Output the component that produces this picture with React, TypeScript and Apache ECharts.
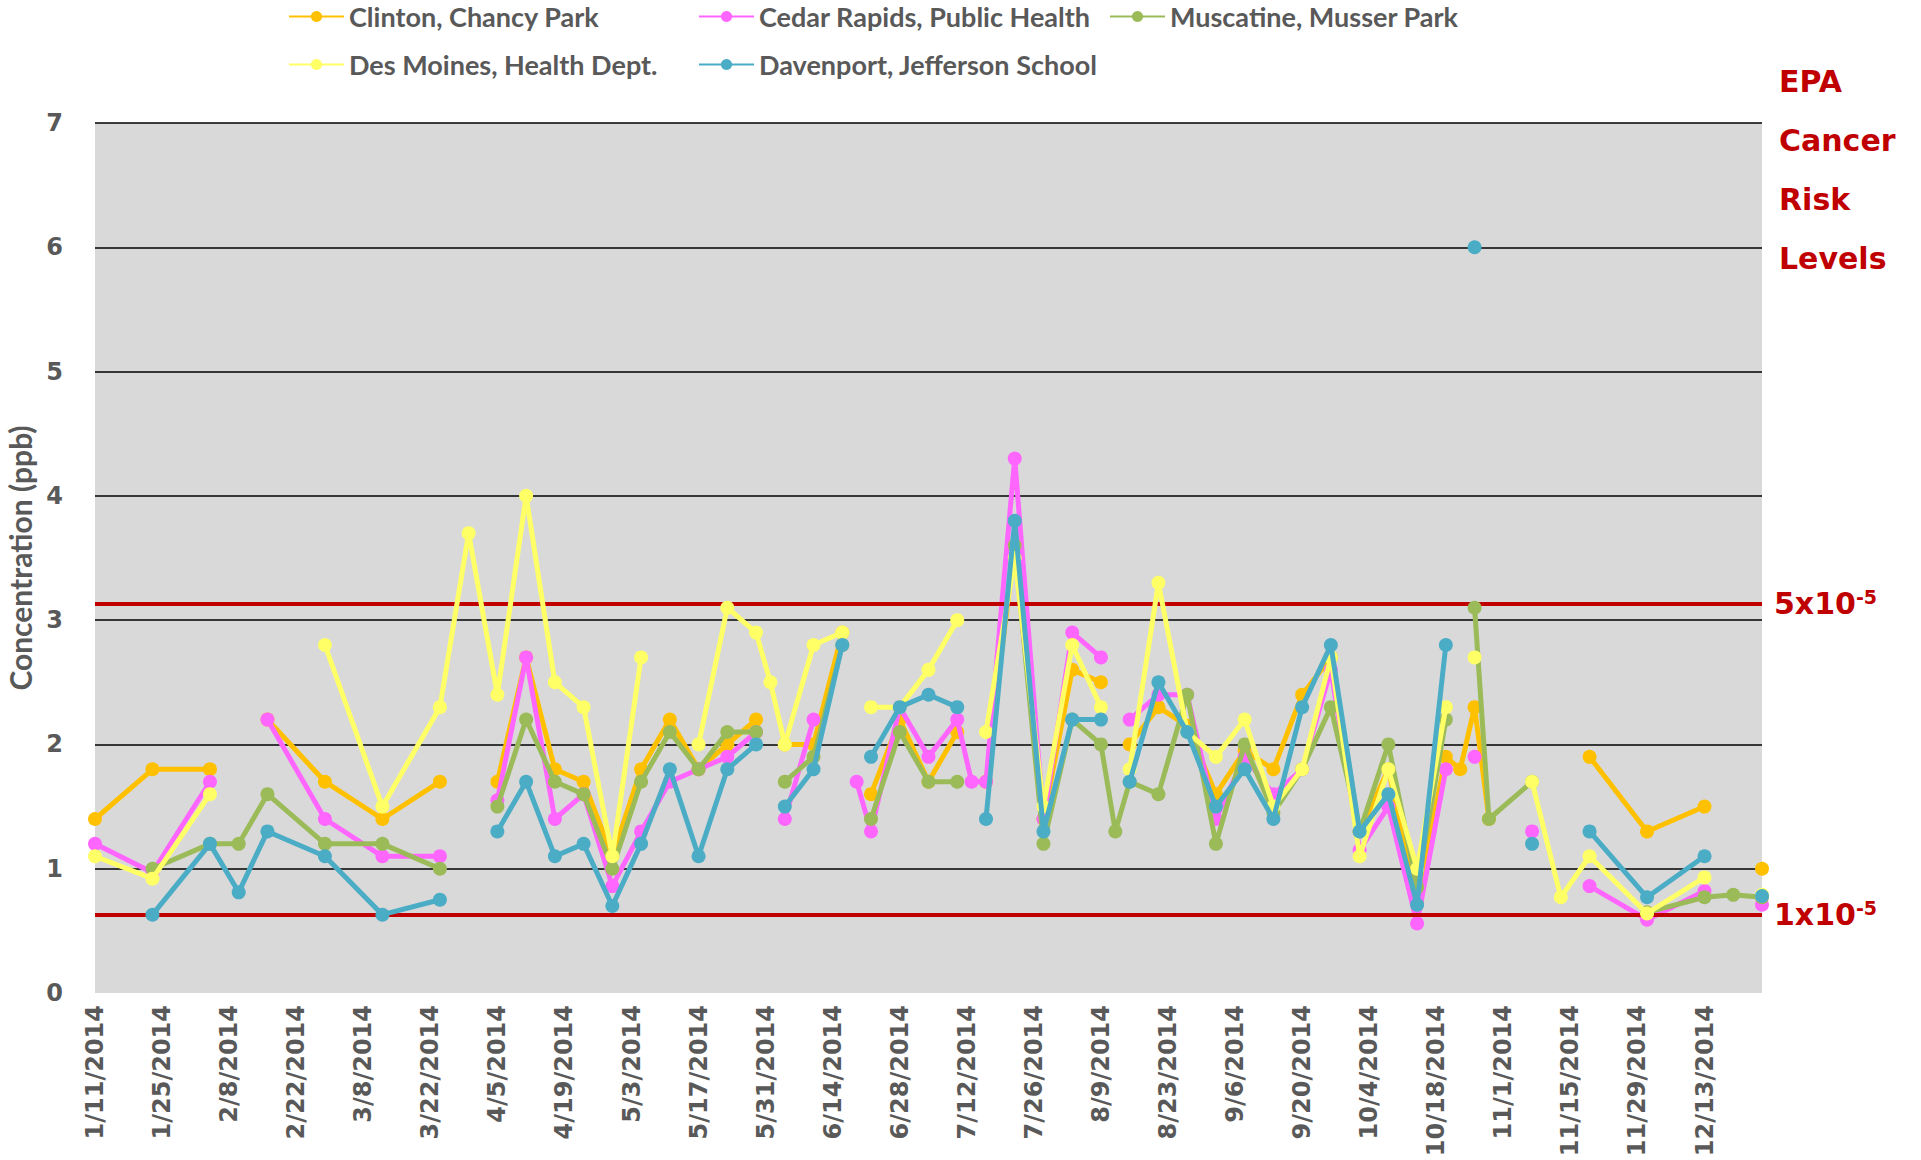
import React, { useEffect, useRef } from "react";
import * as echarts from "echarts";

const dates = [
  "2014-01-11", "2014-01-23", "2014-02-04", "2014-02-10", "2014-02-16", "2014-02-28",
  "2014-03-12", "2014-03-24", "2014-03-30", "2014-04-05", "2014-04-11", "2014-04-17",
  "2014-04-23", "2014-04-29", "2014-05-05", "2014-05-11", "2014-05-17", "2014-05-23",
  "2014-05-29", "2014-06-01", "2014-06-04", "2014-06-10", "2014-06-16", "2014-06-19",
  "2014-06-22", "2014-06-28", "2014-07-04", "2014-07-10", "2014-07-13", "2014-07-16",
  "2014-07-22", "2014-07-28", "2014-08-03", "2014-08-09", "2014-08-12", "2014-08-15",
  "2014-08-21", "2014-08-27", "2014-09-02", "2014-09-08", "2014-09-14", "2014-09-20",
  "2014-09-26", "2014-10-02", "2014-10-08", "2014-10-14", "2014-10-20", "2014-10-23",
  "2014-10-26", "2014-10-29", "2014-11-07", "2014-11-13", "2014-11-19", "2014-12-01",
  "2014-12-13", "2014-12-19", "2014-12-25",
];

const clinton = [
  1.4, 1.8, 1.8, null, 2.2, 1.7, 1.4, 1.7, null, 1.7, 2.7, 1.8, 1.7, 1.1, 1.8, 2.2, 1.8, 2.0,
  2.2, null, 2.0, 2.0, 2.9, null, 1.6, 2.2, 1.7, 2.1, null, 1.7, 3.6, 1.4, 2.6, 2.5, null, 2.0,
  2.3, 2.15, 1.6, 1.95, 1.8, 2.4, 2.7, 1.3, 1.8, 0.75, 1.9, 1.8, 2.3, 1.4, null, null, 1.9, 1.3,
  1.5, null, 1.0,
];
const cedarRapids = [
  1.2, 0.97, 1.7, null, 2.2, 1.4, 1.1, 1.1, null, 1.55, 2.7, 1.4, 1.6, 0.86, 1.3, 1.7, 1.8, 1.9,
  2.1, null, 1.4, 2.2, null, 1.7, 1.3, 2.3, 1.9, 2.2, 1.7, 1.7, 4.3, 1.4, 2.9, 2.7, null, 2.2,
  2.4, 2.4, 1.4, 1.9, 1.6, 1.8, 2.6, 1.15, 1.5, 0.56, 1.8, null, 1.9, null, 1.3, null, 0.86, 0.59,
  0.82, null, 0.71,
];
const muscatine = [
  null, 1.0, 1.2, 1.2, 1.6, 1.2, 1.2, 1.0, null, 1.5, 2.2, 1.7, 1.6, 1.0, 1.7, 2.1, 1.8, 2.1,
  2.1, null, 1.7, 1.9, 2.8, null, 1.4, 2.1, 1.7, 1.7, null, null, 3.6, 1.2, 2.2, 2.0, 1.3, 1.7,
  1.6, 2.4, 1.2, 2.0, 1.45, 1.8, 2.3, 1.3, 2.0, 0.85, 2.2, null, 3.1, 1.4, 1.7, null, null, 0.65,
  0.77, 0.79, 0.77,
];
const desMoines = [
  1.1, 0.92, 1.6, null, null, 2.8, 1.5, 2.3, 3.7, 2.4, 4.0, 2.5, 2.3, 1.1, 2.7, null, 2.0, 3.1,
  2.9, 2.5, 2.0, 2.8, 2.9, null, 2.3, 2.3, 2.6, 3.0, null, 2.1, 3.5, 1.5, 2.8, 2.3, null, 1.8,
  3.3, 2.1, 1.9, 2.2, 1.5, 1.8, 2.7, 1.1, 1.8, 1.0, 2.3, null, 2.7, null, 1.7, 0.77, 1.1, 0.64,
  0.93, null, 0.79,
];
const davenport = [
  null, 0.63, 1.2, 0.81, 1.3, 1.1, 0.63, 0.75, null, 1.3, 1.7, 1.1, 1.2, 0.7, 1.2, 1.8, 1.1, 1.8,
  2.0, null, 1.5, 1.8, 2.8, null, 1.9, 2.3, 2.4, 2.3, null, 1.4, 3.8, 1.3, 2.2, 2.2, null, 1.7,
  2.5, 2.1, 1.5, 1.8, 1.4, 2.3, 2.8, 1.3, 1.6, 0.71, 2.8, null, 6.0, null, 1.2, null, 1.3, 0.77,
  1.1, null, 0.78,
];

const seriesNames = [
  "Clinton, Chancy Park",
  "Cedar Rapids, Public Health",
  "Muscatine, Musser Park",
  "Des Moines, Health Dept.",
  "Davenport, Jefferson School",
];
const seriesValues = [clinton, cedarRapids, muscatine, desMoines, davenport];
const seriesColors = ["#FFC000", "#FF66FF", "#9BBB59", "#FFFF66", "#4BACC6"];

const riskLevels = [3.135, 0.627];
const riskLabels = ["5x10{sup|-5}", "1x10{sup|-5}"];
const riskTitle = "EPA\nCancer\nRisk\nLevels";

const START = Date.UTC(2014, 0, 11);
const DAY = 86400000;
const toDay = (s: string) => Math.round((Date.parse(s + "T00:00:00Z") - START) / DAY);
const fmtDay = (d: number) => {
  const dt = new Date(START + d * DAY);
  return `${dt.getUTCMonth() + 1}/${dt.getUTCDate()}/${dt.getUTCFullYear()}`;
};

const NARROW = "Lato, sans-serif";
const WIDE = "'DejaVu Sans', Verdana, sans-serif";
const GREY = "#595959";
const RED = "#C00000";

const legendPos = [
  { left: 288, top: 3 },
  { left: 698, top: 3 },
  { left: 1109, top: 3 },
  { left: 288, top: 51 },
  { left: 698, top: 51 },
];

export default function App() {
  const ref = useRef<HTMLDivElement>(null);
  useEffect(() => {
    if (!ref.current) return;
    const chart = echarts.init(ref.current, null, { renderer: "svg" });
    const xs = dates.map(toDay);
    const series = seriesNames.map((name, si) => {
      const s: any = {
        name,
        type: "line",
        data: xs.map((x, i) => [x, seriesValues[si][i] == null ? "-" : seriesValues[si][i]]),
        symbol: "circle",
        symbolSize: 14,
        showSymbol: true,
        connectNulls: false,
        color: seriesColors[si],
        lineStyle: { width: 5, color: seriesColors[si] },
        itemStyle: { color: seriesColors[si] },
        z: 3 + si,
      };
      if (si === 0) {
        s.markLine = {
          silent: true,
          symbol: "none",
          lineStyle: { color: RED, width: 4, type: "solid" },
          label: {
            show: true,
            position: "end",
            distance: 12,
            formatter: (p: any) => riskLabels[p.dataIndex],
            color: RED,
            fontFamily: WIDE,
            fontWeight: "bold",
            fontSize: 30,
            rich: {
              sup: {
                color: RED,
                fontFamily: WIDE,
                fontWeight: "bold",
                fontSize: 19,
                verticalAlign: "top",
                padding: [0, 0, 14, 0],
              },
            },
          },
          data: riskLevels.map((v) => ({ yAxis: v })),
        };
      }
      return s;
    });

    chart.setOption({
      animation: false,
      backgroundColor: "#FFFFFF",
      legend: seriesNames.map((name, i) => ({
        data: [name],
        left: legendPos[i].left,
        top: legendPos[i].top,
        itemWidth: 55,
        itemHeight: 14,
        padding: 0,
        selectedMode: false,
        textStyle: {
          color: GREY,
          fontFamily: NARROW,
          fontWeight: "bold",
          fontSize: 27,
        },
      })),
      grid: {
        left: 95,
        top: 123,
        width: 1667,
        height: 870,
        outerBoundsMode: "none",
        containLabel: false,
        show: true,
        backgroundColor: "#D9D9D9",
        borderWidth: 0,
      },
      xAxis: {
        type: "value",
        min: 0,
        max: toDay(dates[dates.length - 1]),
        interval: 14,
        axisLine: { show: false },
        axisTick: { show: false },
        splitLine: { show: false },
        axisLabel: {
          rotate: 90,
          margin: 12,
          showMaxLabel: false,
          color: GREY,
          fontFamily: WIDE,
          fontWeight: "bold",
          fontSize: 24,
          formatter: (v: number) => (v % 14 === 0 ? fmtDay(v) : ""),
        },
      },
      yAxis: {
        type: "value",
        min: 0,
        max: 7,
        interval: 1,
        name: "Concentration (ppb)",
        nameLocation: "middle",
        nameRotate: 90,
        nameGap: 57,
        nameTextStyle: {
          color: GREY,
          fontFamily: NARROW,
          fontWeight: "bold",
          fontSize: 30,
        },
        axisLine: { show: false },
        axisTick: { show: false },
        splitLine: { show: true, showMinLine: false, lineStyle: { color: "#000000", width: 1.5 } },
        axisLabel: {
          margin: 32,
          color: GREY,
          fontFamily: WIDE,
          fontWeight: "bold",
          fontSize: 24,
        },
      },
      graphic: [
        {
          type: "text",
          left: 1779,
          top: 52,
          style: {
            text: riskTitle,
            fill: RED,
            font: `bold 30px ${WIDE}`,
            lineHeight: 59,
          },
        },
      ],
      series,
    });
    return () => chart.dispose();
  }, []);
  return (
    <div
      ref={ref}
      style={{ position: "fixed", left: 0, top: 0, width: 1921, height: 1160, background: "#fff" }}
    />
  );
}
